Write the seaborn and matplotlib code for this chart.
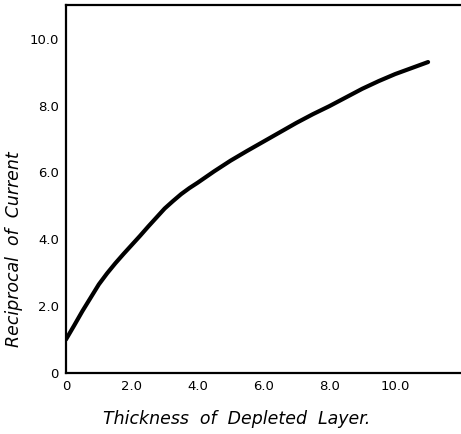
import numpy as np
import pandas as pd
import matplotlib
matplotlib.use("Agg")
import matplotlib.pyplot as plt
import seaborn as sns

# values
thickness = [0.0, 0.25, 0.5, 0.75, 1.0, 1.25, 1.5, 1.75, 2.0, 2.25, 2.5, 2.75, 3.0,
             3.25, 3.5, 3.75, 4.0, 4.5, 5.0, 5.5, 6.0, 6.5, 7.0, 7.5, 8.0, 8.5,
             9.0, 9.5, 10.0, 10.5, 11.0]
recip_current = [1.0, 1.42, 1.85, 2.25, 2.65, 2.98, 3.28, 3.56, 3.83, 4.1, 4.38, 4.65, 4.92,
                 5.14, 5.35, 5.53, 5.69, 6.03, 6.35, 6.64, 6.92, 7.2, 7.48, 7.74, 7.98, 8.24,
                 8.5, 8.73, 8.94, 9.12, 9.3]

x_ticks = [0, 2, 4, 6, 8, 10]
x_labels = ["0", "2.0", "4.0", "6.0", "8.0", "10.0"]
y_ticks = [0, 2, 4, 6, 8, 10]
y_labels = ["0", "2.0", "4.0", "6.0", "8.0", "10.0"]

df = pd.DataFrame({"x": thickness, "y": recip_current})

sns.set_style("white")
plt.rcParams["font.family"] = ["DejaVu Sans"]
plt.rcParams["text.color"] = "black"
plt.rcParams["axes.labelcolor"] = "black"

fig = plt.figure(figsize=(4.61, 4.34), dpi=100)
ax = fig.add_axes([0.143, 0.1406, 0.857, 0.8474])

sns.lineplot(data=df, x="x", y="y", ax=ax, color="black", linewidth=3.0,
             solid_capstyle="round", solid_joinstyle="round")

ax.set_xlim(0, 12)
ax.set_ylim(0, 11)
ax.set_xticks(x_ticks)
ax.set_xticklabels(x_labels)
ax.set_yticks(y_ticks)
ax.set_yticklabels(y_labels)
ax.tick_params(direction="in", length=4, width=1.3, labelsize=9.5, colors="black", pad=5)
for lbl in ax.get_xticklabels() + ax.get_yticklabels():
    lbl.set_fontweight("medium")

for side in ["left", "bottom", "top"]:
    ax.spines[side].set_linewidth(1.6)
    ax.spines[side].set_color("black")
ax.spines["right"].set_visible(False)

ax.set_xlabel("Thickness  of  Depleted  Layer.", fontsize=12.5, style="italic", labelpad=12)
ax.set_ylabel("Reciprocal  of  Current", fontsize=12.5, style="italic", labelpad=8)
ax.xaxis.set_label_coords(0.433, -0.1)
ax.yaxis.set_label_coords(-0.108, 0.337)

fig.savefig("out.png", dpi=100)
